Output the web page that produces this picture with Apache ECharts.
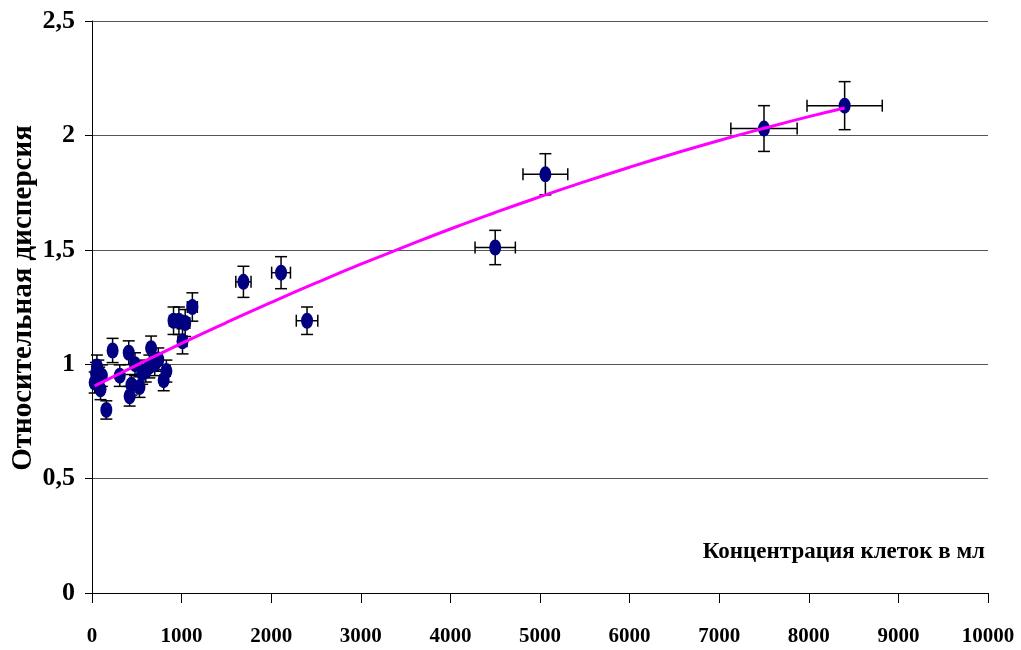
<!DOCTYPE html>
<html>
<head>
<meta charset="utf-8">
<script src="https://cdn.jsdelivr.net/npm/echarts@6/dist/echarts.min.js"></script>
<style>
  html, body { margin: 0; padding: 0; background: #fff; }
  #chart { width: 1021px; height: 650px; }
</style>
</head>
<body>
<div id="chart"></div>
<script>
// Measured cell concentration (per ml) and relative dispersion, with errors
const conc = [30, 45, 55, 70, 80, 95, 110, 160, 230, 310, 410, 420, 440, 480, 530, 560, 600, 640, 660, 700,
  740, 800, 830, 910, 970, 1010, 1040, 1120, 1690, 2110, 2400, 4500, 5060, 7500, 8400];
const disp = [0.92, 0.96, 0.99, 0.97, 0.94, 0.89, 0.95, 0.80, 1.06, 0.95, 1.05, 0.86, 0.91, 1.00, 0.90, 0.96, 0.97, 0.99, 1.07, 1.00,
  1.02, 0.93, 0.97, 1.19, 1.19, 1.10, 1.18, 1.25, 1.36, 1.40, 1.19, 1.51, 1.83, 2.03, 2.13];
const concErr = [2, 2, 3, 4, 4, 5, 6, 8, 12, 16, 21, 21, 22, 24, 27, 28, 30, 32, 33, 35,
  37, 40, 42, 46, 49, 51, 52, 56, 85, 105, 120, 225, 250, 370, 420];
const dispErr = [0.046, 0.048, 0.05, 0.048, 0.047, 0.045, 0.047, 0.04, 0.053, 0.047, 0.052, 0.043, 0.045, 0.05, 0.045, 0.048, 0.048, 0.05, 0.053, 0.05,
  0.051, 0.046, 0.048, 0.06, 0.06, 0.055, 0.059, 0.062, 0.068, 0.07, 0.06, 0.075, 0.09, 0.10, 0.105];

// Polynomial trend line samples
const trendX = [30, 500, 1000, 1500, 2000, 2500, 3000, 3500, 4000, 4500, 5000, 5500, 6000, 6500, 7000, 7500, 8000, 8400];
const trendY = [0.905, 0.996, 1.091, 1.182, 1.270, 1.355, 1.437, 1.515, 1.591, 1.663, 1.732, 1.798, 1.861, 1.921, 1.978, 2.031, 2.082, 2.120];

// Axis ticks
const yTicks = [0, 0.5, 1, 1.5, 2, 2.5];
const xTicks = [0, 1000, 2000, 3000, 4000, 5000, 6000, 7000, 8000, 9000, 10000];

const yTitle = 'Относительная дисперсия';
const xTitle = 'Концентрация клеток в мл';

const points = conc.map((x, i) => [x, disp[i]]);
const errRows = conc.map((x, i) => [x, disp[i], concErr[i], dispErr[i]]);
const trend = trendX.map((x, i) => [x, trendY[i]]);

const serif = '"Liberation Serif", "Times New Roman", serif';

const chart = echarts.init(document.getElementById('chart'));
chart.setOption({
  animation: false,
  backgroundColor: '#ffffff',
  grid: { left: 92, right: 33, top: 21, bottom: 57, containLabel: false },
  xAxis: {
    type: 'value',
    min: xTicks[0],
    max: xTicks[xTicks.length - 1],
    interval: xTicks[1] - xTicks[0],
    axisLine: { show: true, lineStyle: { color: '#000', width: 1 } },
    axisTick: { show: true, inside: false, length: 10, lineStyle: { color: '#000' } },
    axisLabel: {
      margin: 33, fontFamily: serif, fontWeight: 'bold', fontSize: 21, color: '#000',
      formatter: v => String(v)
    },
    splitLine: { show: false }
  },
  yAxis: {
    type: 'value',
    min: yTicks[0],
    max: yTicks[yTicks.length - 1],
    interval: yTicks[1] - yTicks[0],
    axisLine: { show: true, lineStyle: { color: '#000', width: 1 } },
    axisTick: { show: true, inside: false, length: 7, lineStyle: { color: '#000' } },
    axisLabel: {
      margin: 17, fontFamily: serif, fontWeight: 'bold', fontSize: 26, color: '#000',
      formatter: v => String(v).replace('.', ',')
    },
    splitLine: { show: true, lineStyle: { color: '#555', width: 1 } }
  },
  graphic: [
    {
      type: 'text', right: 36, top: 541,
      style: { text: xTitle, font: 'bold 23px ' + serif, fill: '#000' }
    },
    {
      type: 'text', x: 24, y: 298, rotation: Math.PI / 2,
      style: { text: yTitle, font: 'bold 29px ' + serif, fill: '#000', align: 'center', verticalAlign: 'middle' }
    }
  ],
  series: [
    {
      type: 'custom',
      z: 1,
      data: errRows,
      renderItem: function (params, api) {
        const x = api.value(0), y = api.value(1), ex = api.value(2), ey = api.value(3);
        const c = api.coord([x, y]);
        const top = api.coord([x, y + ey]);
        const bot = api.coord([x, y - ey]);
        const lft = api.coord([x - ex, y]);
        const rgt = api.coord([x + ex, y]);
        const cap = 6;
        const style = { stroke: '#000', lineWidth: 1.5 };
        const children = [
          { type: 'line', shape: { x1: c[0], y1: top[1], x2: c[0], y2: bot[1] }, style },
          { type: 'line', shape: { x1: c[0] - cap, y1: top[1], x2: c[0] + cap, y2: top[1] }, style },
          { type: 'line', shape: { x1: c[0] - cap, y1: bot[1], x2: c[0] + cap, y2: bot[1] }, style },
          { type: 'line', shape: { x1: lft[0], y1: c[1], x2: rgt[0], y2: c[1] }, style },
          { type: 'line', shape: { x1: lft[0], y1: c[1] - cap, x2: lft[0], y2: c[1] + cap }, style },
          { type: 'line', shape: { x1: rgt[0], y1: c[1] - cap, x2: rgt[0], y2: c[1] + cap }, style }
        ];
        return { type: 'group', children };
      }
    },
    {
      type: 'scatter',
      z: 2,
      data: points,
      symbol: 'circle',
      symbolSize: [12, 16],
      itemStyle: { color: '#000080', opacity: 1 }
    },
    {
      type: 'line',
      z: 3,
      data: trend,
      smooth: true,
      showSymbol: false,
      lineStyle: { color: '#ff00ff', width: 3 }
    }
  ]
});
</script>
</body>
</html>
